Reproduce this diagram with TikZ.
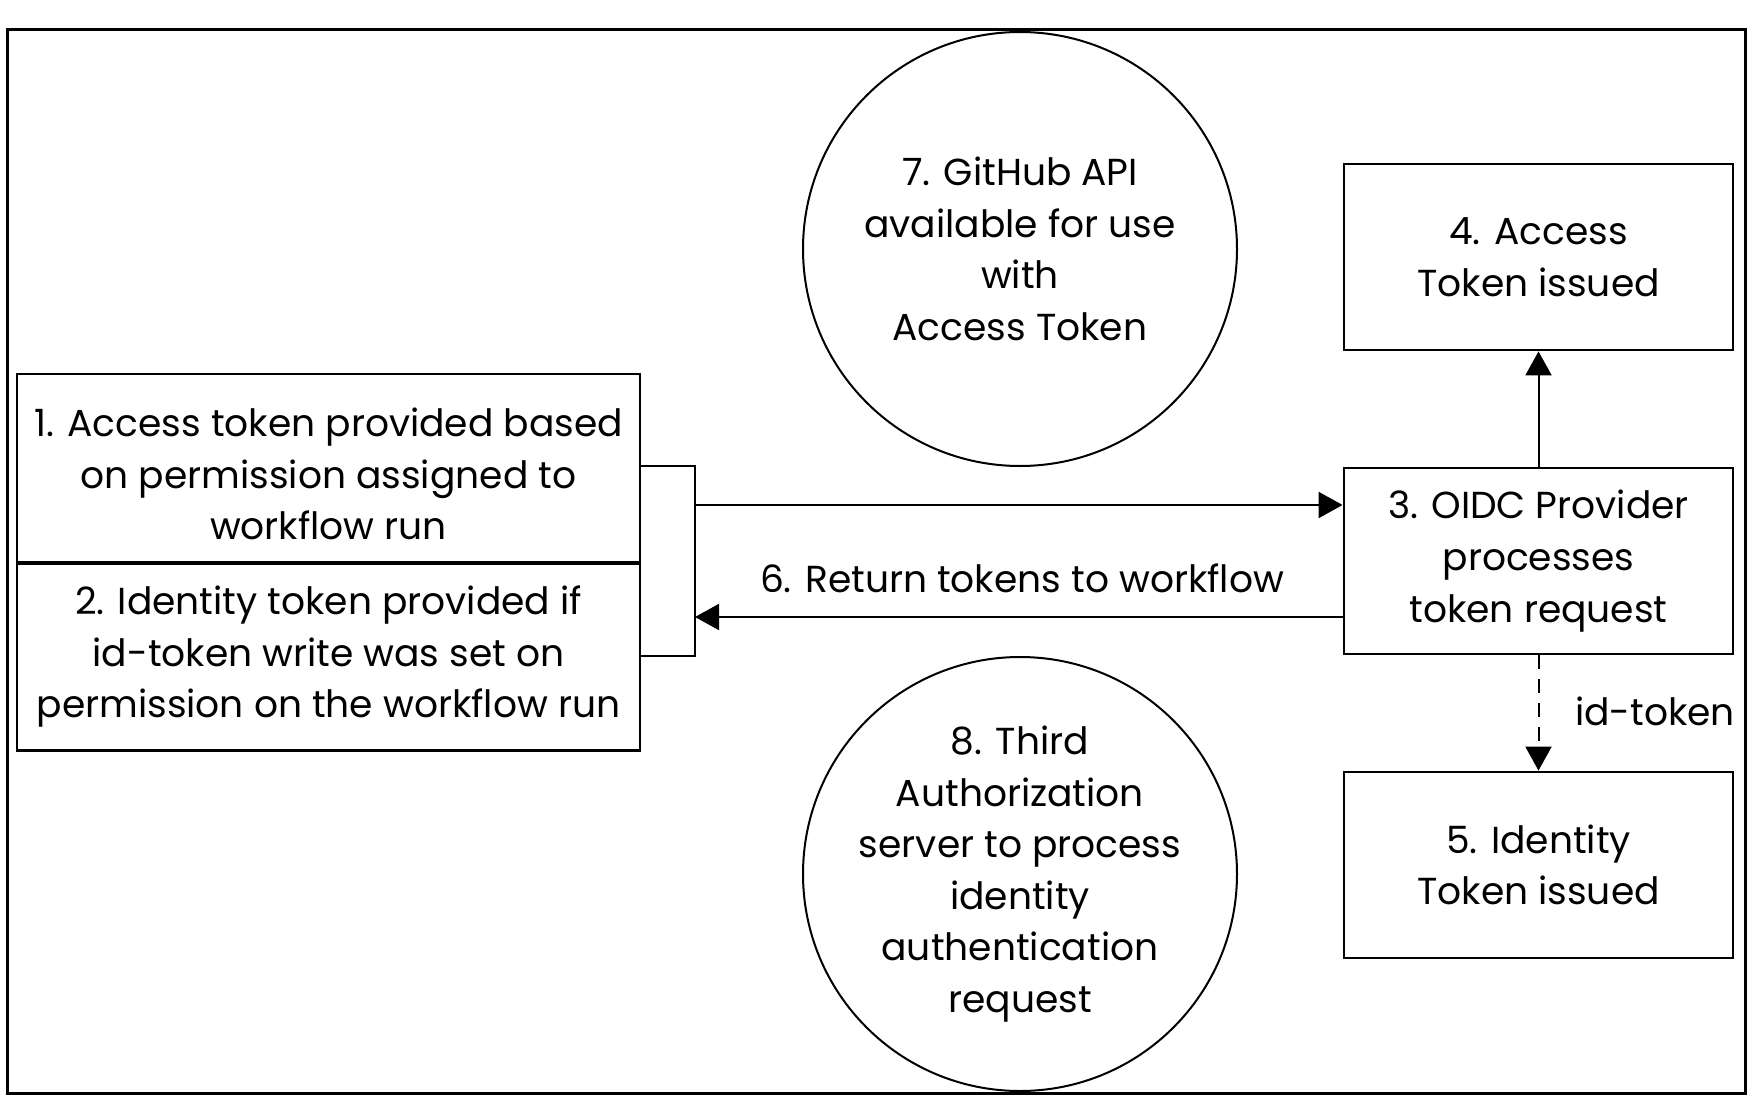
\documentclass[tikz,border=0pt]{standalone}
\usepackage{fontspec}
\setmainfont{Poppins}
\usetikzlibrary{arrows.meta}
\tikzset{
  every node/.style={font=\fontsize{18.8}{25.8}\selectfont, align=center, inner sep=0pt},
  box/.style={draw, line width=1.4pt, rectangle, minimum height=93pt},
  circ/.style={draw, line width=1pt, circle, inner sep=-12pt, minimum size=217pt},
  conn/.style={line width=1pt},
  arr/.style={conn, -{Triangle[length=12pt, width=13pt]}},
}
\begin{document}
\begin{tikzpicture}[x=0.5pt, y=-0.5pt]
\useasboundingbox (0,0) rectangle (1758,1108);
\draw[line width=1.5pt] (7,29) rectangle (1745,1093);
% left boxes
\node[box, minimum width=311.5pt, minimum height=94pt] (b1) at (328.5,468) {};
\node (t1) at (328.5,474) {1. Access token provided based\\on permission assigned to\\workflow run};
\node[box, minimum width=311.5pt, minimum height=93.5pt, anchor=north] (b2) at (328.5,562) {2. Identity token provided if\\id-token write was set on\\permission on the workflow run};
% right boxes
\node[box, minimum width=194.5pt] (b3) at (1538.5,561) {3. OIDC Provider\\processes\\token request};
\node[box, minimum width=194.5pt] (b4) at (1538.5,257) {4. Access\\Token issued};
\node[box, minimum width=194.5pt] (b5) at (1538.5,865) {5. Identity\\Token issued};
% circles
\node[circ] (c7) at (1020,249) {7. GitHub API\\available for use\\with\\Access Token};
\node[circ] (c8) at (1020,874) {8. Third\\Authorization\\server to process\\identity\\authentication\\request};
% bracket
\coordinate (brT) at (695,466);
\coordinate (brB) at (695,656);
\draw[conn] (b1.east |- brT) -- (brT) -- (brB) -- (b2.east |- brB);
% arrows
\coordinate (a1) at (695,505);
\coordinate (a6) at (695,617);
\draw[arr] (a1) -- (a1 -| b3.west);
\draw[arr] (a6 -| b3.west) -- (a6);
\node (l6) at (1022,578) {6. Return tokens to workflow};
\draw[arr] (b3.north) -- (b4.south);
\draw[arr, dashed, dash pattern=on 7pt off 5pt] (b3.south) -- (b5.north);
\node (lid) at (1655,711) {id-token};
\end{tikzpicture}
\end{document}
